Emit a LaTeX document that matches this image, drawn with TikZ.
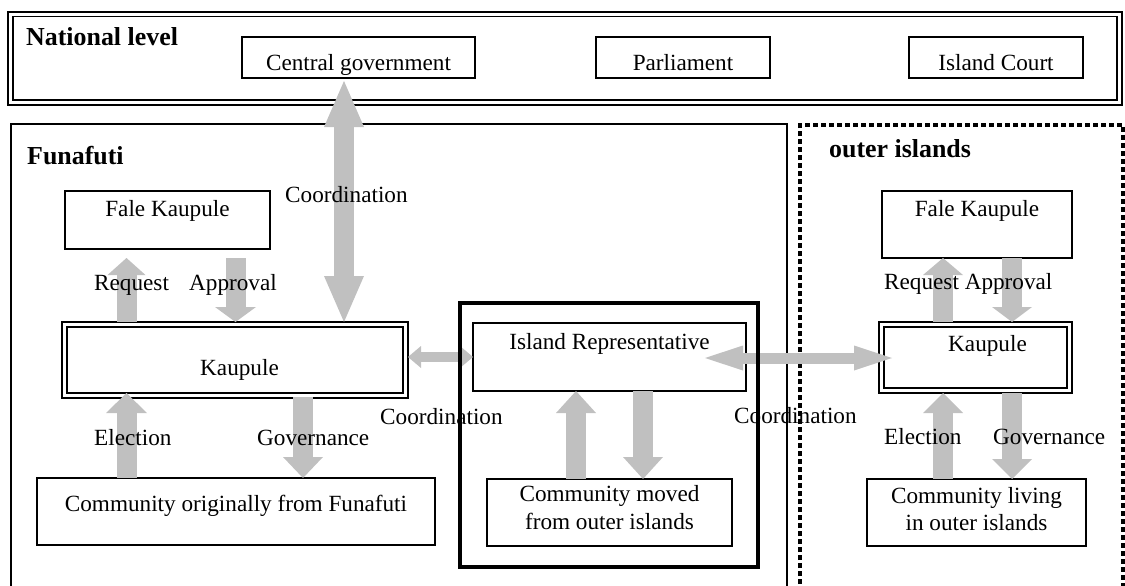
\documentclass[tikz,border=0pt]{standalone}
\usepackage{fontspec}
\setmainfont{Liberation Serif}
\usetikzlibrary{arrows.meta}
\definecolor{arrowgrey}{RGB}{192,192,192}
\begin{document}
\begin{tikzpicture}[x=1pt, y=-1pt,
    every node/.style={font=\fontsize{23.2}{27.5}\selectfont},
    box/.style={draw, line width=1.5pt, inner sep=0pt, outer sep=0pt, align=center},
    dbox/.style={box, double, line width=1.6pt, double distance=3.5pt},
    lbl/.style={inner sep=0pt, anchor=west, text height=16pt, text depth=0pt},
    level/.style={lbl, font=\fontsize{25.9}{30}\selectfont\bfseries, text height=17pt},
    fat/.style 2 args={arrowgrey, line width=20pt,
      -{Triangle[length=#1, width=#2, line width=0pt]}},
    fatboth/.style 2 args={arrowgrey, line width=20pt,
      {Triangle[length=#1, width=#2, line width=0pt]}-{Triangle[length=#1, width=#2, line width=0pt]}}]
      \useasboundingbox (0,0) rectangle (1125,586);
      \draw[line width=2.3pt] (8,12) rectangle (1122,105);
      \draw[line width=1.3pt] (13,16.5) rectangle (1117,100);
      \draw[line width=1.6pt] (11,600) -- (11,124) -- (787,124) -- (787,600);
      \draw[line width=4pt, dash pattern=on 5pt off 3pt]
        (800,600) -- (800,125) -- (1123,125) -- (1123,600);
      \node[box, minimum width=233pt, minimum height=41pt, text height=26pt, text depth=0pt]
        (centralgov) at (358.5,57.5) {Central government};
      \node[box, minimum width=174pt, minimum height=41pt, text height=26pt, text depth=0pt]
        (parliament) at (683,57.5) {Parliament};
      \node[box, minimum width=174pt, minimum height=41pt, text height=26pt, text depth=0pt]
        (court) at (996,57.5) {Island Court};
      \node[box, minimum width=205pt, minimum height=58pt, text height=16pt, text depth=24pt]
        (falef) at (167.5,220) {Fale Kaupule};
      \node[dbox, minimum width=341pt, minimum height=71pt, text height=30pt, text depth=0pt]
        (kaupulef) at (235,360) {\hspace*{9pt}Kaupule};
      \node[box, minimum width=398pt, minimum height=67pt, text height=16pt, text depth=16pt]
        (commf) at (236,511.5) {Community originally from Funafuti};
      \node[box, minimum width=273pt, minimum height=68pt, text height=16pt, text depth=32pt]
        (islandrep) at (609.5,357) {Island Representative};
      \node[box, minimum width=245pt, minimum height=67pt, text depth=10pt]
        (commmoved) at (609.5,512.5) {Community moved\\from outer islands};
      \node[box, minimum width=190pt, minimum height=67pt, text height=16pt, text depth=31.5pt]
        (faleo) at (977,224.5) {Fale Kaupule};
      \node[dbox, minimum width=188pt, minimum height=66pt, text height=16pt, text depth=27.5pt]
        (kaupuleo) at (975.5,357.5) {\hspace*{24pt}Kaupule};
      \node[box, minimum width=219pt, minimum height=67pt, text depth=7pt]
        (commo) at (976.5,512.5) {Community living\\in outer islands};
      \begin{scope}
        \draw[fatboth={46pt}{40pt}]
          ([xshift=-14.5pt,yshift=-3pt]centralgov.south) to ([xshift=109pt,yshift=2.5pt]kaupulef.north);
        \draw[fat={17pt}{38pt}] ([xshift=-108.5pt,yshift=2.5pt]kaupulef.north) to ([xshift=-41pt,yshift=-9pt]falef.south);
        \draw[fat={15pt}{41pt}] ([xshift=68pt,yshift=-9pt]falef.south) to ([xshift=0.5pt,yshift=2.5pt]kaupulef.north);
        \draw[fat={20pt}{41pt}] ([xshift=-109.5pt]commf.north) to ([xshift=-108.5pt,yshift=2.5pt]kaupulef.south);
        \draw[fat={21pt}{40pt}] ([xshift=68pt,yshift=-1.5pt]kaupulef.south) to ([xshift=67pt]commf.north);
        \draw[fatboth={13pt}{22pt}, line width=10pt]
          ([xshift=2.5pt,yshift=3pt]kaupulef.east) to (islandrep.west);
        \draw[fatboth={38pt}{25pt}, line width=11pt]
          ([xshift=-41pt,yshift=-1pt]islandrep.east) to ([xshift=10.5pt,yshift=-0.5pt]kaupuleo.west);
        \draw[fat={22pt}{40pt}] ([xshift=-33.5pt]commmoved.north) to ([xshift=-33.5pt]islandrep.south);
        \draw[fat={22pt}{40pt}] ([xshift=33.5pt]islandrep.south) to ([xshift=33.5pt]commmoved.north);
        \draw[fat={17pt}{40pt}] ([xshift=-32.5pt,yshift=2.5pt]kaupuleo.north) to ([xshift=-34pt]faleo.south);
        \draw[fat={15pt}{40pt}] ([xshift=35pt]faleo.south) to ([xshift=36.5pt,yshift=2.5pt]kaupuleo.north);
        \draw[fat={20pt}{40pt}] ([xshift=-33.5pt]commo.north) to ([xshift=-32.5pt,yshift=-2.5pt]kaupuleo.south);
        \draw[fat={20pt}{40pt}] ([xshift=36.5pt,yshift=-2.5pt]kaupuleo.south) to ([xshift=35.5pt]commo.north);
      \end{scope}
      \draw[line width=4pt] (460,303) rectangle (758,567);
      \node[level] (national) at (26,37.5) {National level};
      \node[level] (funafuti) at (27,155.5) {Funafuti};
      \node[level] (outer) at (829,149) {outer islands};
      \node[lbl] (coordtop) at (285,194) {Coordination};
      \node[lbl] (requestf) at (94,282) {Request};
      \node[lbl] (approvalf) at (189,282) {Approval};
      \node[lbl] (electionf) at (94,437.5) {Election};
      \node[lbl] (governf) at (257,437.5) {Governance};
      \node[lbl] (coordleft) at (380,416) {Coordination};
      \node[lbl] (coordright) at (734,415.5) {Coordination};
      \node[lbl] (requesto) at (884,281) {Request Approval};
      \node[lbl] (electiono) at (884,436) {Election};
      \node[lbl] (governo) at (993,436) {Governance};
    \end{tikzpicture}
\end{document}
